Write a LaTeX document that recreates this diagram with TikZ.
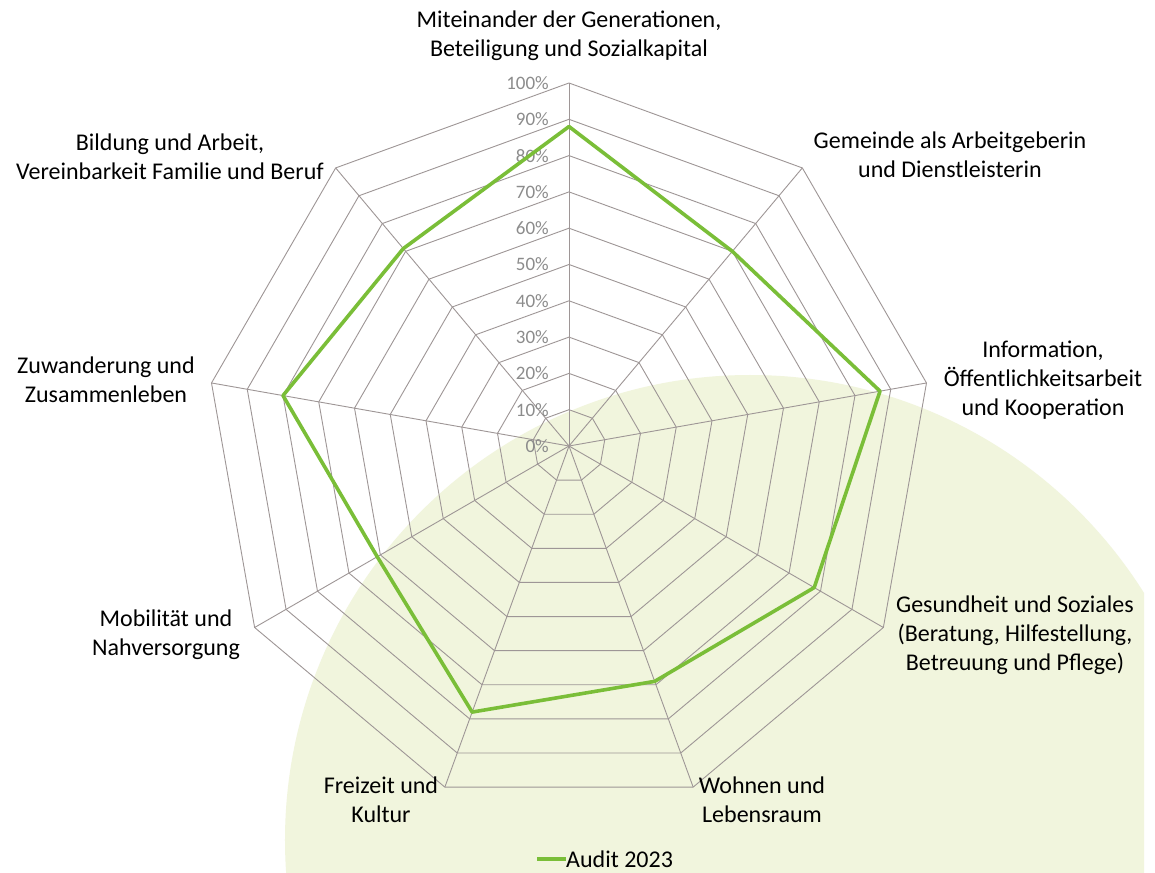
\documentclass[tikz,border=0pt]{standalone}
\usepackage{fontspec}
\setmainfont{Carlito}
\usetikzlibrary{positioning}

\definecolor{auditgreen}{RGB}{122,190,56}
\definecolor{gridgray}{RGB}{158,150,150}
\definecolor{ticktext}{RGB}{140,140,140}
\definecolor{bggreen}{RGB}{241,245,221}

\begin{document}
\begin{tikzpicture}[
    x=1pt, y=1pt,
    gridline/.style={draw=gridgray, line width=0.9pt},
    dataline/.style={draw=auditgreen, line width=3.6pt, line join=round},
    category/.style={align=center, font=\fontsize{24}{29}\selectfont, inner sep=0pt},
    ticklabel/.style={anchor=east, text=ticktext, font=\fontsize{19}{20}\selectfont, inner sep=0pt}
]

\useasboundingbox (-569,-426) rectangle (586,446);
\fill[white] (-569,-426) rectangle (586,446);

% faded disc in the background
\begin{scope}
    \clip (-569,-426) rectangle (575,446);
    \fill[bggreen] (181,-394) circle (465);
\end{scope}

% Define axis end points
\coordinate (O) at (0,0);
\foreach \i in {1,...,9}
    \coordinate (a\i) at ({130-40*\i}:363);

% Rings for 10% ... 100%
\foreach \p in {1,...,10}
    \draw[gridline] (90:36.3*\p) -- (50:36.3*\p) -- (10:36.3*\p) -- (-30:36.3*\p) -- (-70:36.3*\p)
        -- (-110:36.3*\p) -- (-150:36.3*\p) -- (170:36.3*\p) -- (130:36.3*\p) -- cycle;

% Axes
\foreach \i in {1,...,9}
    \draw[gridline] (O) -- (a\i);

% Percent labels
\foreach \p in {0,...,10} {
    \pgfmathtruncatemacro\pct{10*\p}
    \node[ticklabel] (t\p) at (-20,36.3*\p) {\pct\%};
}

% Audit 2023 values
\foreach \i/\v in {1/88,2/70,3/87,4/78,5/69,6/78,7/61,8/80,9/71}
    \coordinate (d\i) at ({130-40*\i}:{3.63*\v});
\draw[dataline] (d1) -- (d2) -- (d3) -- (d4) -- (d5) -- (d6) -- (d7) -- (d8) -- (d9) -- cycle;

% Category labels
\node[category] (c1) at (0,410) {Miteinander der Generationen,\\Beteiligung und Sozialkapital};
\node[category] (c2) at (381,291) {Gemeinde als Arbeitgeberin\\und Dienstleisterin};
\node[category] (c3) at (474,66) {Information,\\Öffentlichkeitsarbeit\\und Kooperation};
\node[category] (c4) at (446,-189) {Gesundheit und Soziales\\(Beratung, Hilfestellung,\\Betreuung und Pflege)};
\node[category] (c5) at (193,-354) {Wohnen und\\Lebensraum};
\node[category] (c6) at (-188,-354) {Freizeit und\\Kultur};
\node[category] (c7) at (-403,-189) {Mobilität und\\Nahversorgung};
\node[category] (c8) at (-463,66) {Zuwanderung und\\Zusammenleben};
\node[category] (c9) at (-399,289) {Bildung und Arbeit,\\Vereinbarkeit Familie und Beruf};

% Legend
\coordinate (legA) at (-32,-413);
\node[category, anchor=west] (legend) at (-3,-413) {Audit 2023};
\draw[auditgreen, line width=3.6pt] (legA) -- (legend.west);

\end{tikzpicture}
\end{document}
